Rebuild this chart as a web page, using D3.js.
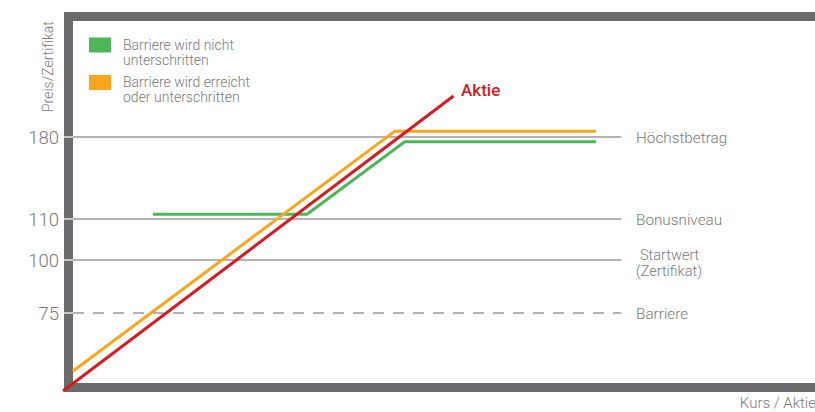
<!DOCTYPE html>
<html>
<head>
<meta charset="utf-8">
<script src="https://cdn.jsdelivr.net/npm/d3@7"></script>
<style>
  html, body { margin: 0; padding: 0; background: #fff; overflow: hidden; }
  svg { display: block; font-family: Roboto, "Liberation Sans", sans-serif; }
</style>
</head>
<body>
<svg id="chart" width="815" height="412"></svg>
<script>
// Reference levels on the certificate price axis
const levelValues = [180, 110, 100, 75];
const levelNames = [["Höchstbetrag"], ["Bonusniveau"], ["Startwert", "(Zertifikat)"], ["Barriere"]];
const levelDashed = [false, false, false, true];

// Share price path (Kurs on x, Preis on y)
const aktieKurs = [0, 100];
const aktiePreis = [0, 215];

// Certificate payoff when the barrier is never breached
const greenKurs = [23, 62.5, 87.5, 136.5];
const greenPreis = [114, 114, 176, 176];

// Certificate payoff when the barrier is touched or breached
const orangeKurs = [2.5, 85, 136.5];
const orangePreis = [19, 185, 185];

const legendLabels = [["Barriere wird nicht", "unterschritten"], ["Barriere wird erreicht", "oder unterschritten"]];
const seriesColors = ["#4db757", "#f9a61c"];
const aktieColor = "#d71920";
const frameColor = "#6b6b6d";
const textColor = "#7a7a7a";

const svg = d3.select("#chart");

// Schematic axes: price axis is piecewise linear so each level sits where it reads best
const x = d3.scaleLinear().domain([0, 100]).range([63, 453.5]);
const y = d3.scaleLinear()
  .domain([0, 75, 100, 110, 180, 280])
  .range([391, 313, 260, 219, 137, 20]);

const line = d3.line().x(d => x(d[0])).y(d => y(d[1]));
const zipPts = (a, b) => a.map((v, i) => [v, b[i]]);

// Frame (left, top and bottom bars)
svg.append("rect")
  .attr("x", 68.5).attr("y", 16.5)
  .attr("width", 800).attr("height", 371)
  .attr("fill", "none")
  .attr("stroke", frameColor)
  .attr("stroke-width", 9);

// Reference level lines
const gridEnd = 143;
const levels = svg.append("g");
levelValues.forEach((v, i) => {
  levels.append("line")
    .attr("x1", x(0) + 10).attr("x2", x(gridEnd))
    .attr("y1", y(v)).attr("y2", y(v))
    .attr("stroke", "#9a9a9a")
    .attr("stroke-width", 1.5)
    .attr("stroke-dasharray", levelDashed[i] ? "11,9" : null);
  // tick across the frame bar
  levels.append("line")
    .attr("x1", x(0) + 1).attr("x2", x(0) + 10)
    .attr("y1", y(v)).attr("y2", y(v))
    .attr("stroke", "#e6e6e6")
    .attr("stroke-width", 1.5);
});

// Price axis tick labels
svg.append("g").selectAll("text")
  .data(levelValues)
  .join("text")
  .attr("x", 59)
  .attr("y", d => y(d) + 7)
  .attr("text-anchor", "end")
  .attr("font-size", 18.5)
  .attr("font-weight", 300)
  .attr("fill", textColor)
  .text(d => d);

// Level names on the right, one text element per line
const names = svg.append("g");
levelValues.forEach((v, i) => {
  const lines = levelNames[i];
  lines.forEach((s, j) => {
    names.append("text")
      .attr("x", j === 0 && lines.length > 1 ? 640 : 636)
      .attr("y", (lines.length > 1 ? y(v) : y(v) + 5.5) + j * 16)
      .attr("font-size", lines.length > 1 ? 14.5 : 15.3)
      .attr("font-weight", 300)
      .attr("fill", textColor)
      .text(s);
  });
});

// Payoff lines
svg.append("path")
  .datum(zipPts(greenKurs, greenPreis))
  .attr("d", line)
  .attr("fill", "none")
  .attr("stroke", seriesColors[0])
  .attr("stroke-width", 3);

svg.append("path")
  .datum(zipPts(orangeKurs, orangePreis))
  .attr("d", line)
  .attr("fill", "none")
  .attr("stroke", seriesColors[1])
  .attr("stroke-width", 3);

svg.append("path")
  .datum(zipPts(aktieKurs, aktiePreis))
  .attr("d", line)
  .attr("fill", "none")
  .attr("stroke", aktieColor)
  .attr("stroke-width", 3);

svg.append("text")
  .attr("x", x(aktieKurs[1]) + 7.5)
  .attr("y", y(aktiePreis[1]) - 0.5)
  .attr("font-size", 17)
  .attr("font-weight", 500)
  .attr("fill", aktieColor)
  .text("Aktie");

// Legend
const legend = svg.append("g");
legendLabels.forEach((lines, i) => {
  const top = 37.5 + i * 37.5;
  legend.append("rect")
    .attr("x", 89).attr("y", top)
    .attr("width", 22).attr("height", 15)
    .attr("fill", seriesColors[i]);
  lines.forEach((s, j) => {
    legend.append("text")
      .attr("x", 123)
      .attr("y", top + 12 + j * 15)
      .attr("font-size", 14)
      .attr("font-weight", 300)
      .attr("fill", textColor)
      .text(s);
  });
});

// Axis titles
svg.append("text")
  .attr("transform", "translate(52.5,112) rotate(-90)")
  .attr("font-size", 14)
  .attr("font-weight", 300)
  .attr("fill", textColor)
  .text("Preis/Zertifikat");

svg.append("text")
  .attr("x", 816).attr("y", 408)
  .attr("text-anchor", "end")
  .attr("font-size", 15)
  .attr("font-weight", 300)
  .attr("fill", textColor)
  .text("Kurs / Aktie");
</script>
</body>
</html>
